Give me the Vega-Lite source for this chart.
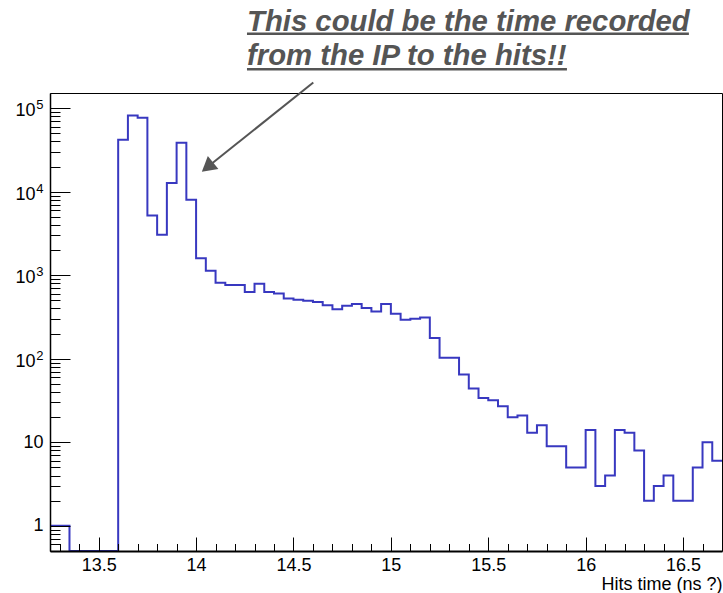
{
  "$schema": "https://vega.github.io/schema/vega-lite/v6.json",
  "width": 672,
  "height": 458,
  "autosize": {"type": "none"},
  "padding": {"left": 50, "top": 93, "right": 1, "bottom": 42},
  "background": "white",
  "config": {
    "view": {"stroke": "#000", "strokeWidth": 1},
    "font": "Liberation Sans",
    "axis": {"grid": false}
  },
  "datasets": {
    "hist": [
      {"t": 13.25, "n": 1}, {"t": 13.3, "n": 1}, {"t": 13.35, "n": 0}, {"t": 13.4, "n": 0},
      {"t": 13.45, "n": 0}, {"t": 13.5, "n": 0}, {"t": 13.55, "n": 0}, {"t": 13.6, "n": 42000},
      {"t": 13.65, "n": 82000}, {"t": 13.7, "n": 77000}, {"t": 13.75, "n": 5200}, {"t": 13.8, "n": 3050},
      {"t": 13.85, "n": 12700}, {"t": 13.9, "n": 38500}, {"t": 13.95, "n": 8000}, {"t": 14.0, "n": 1600},
      {"t": 14.05, "n": 1130}, {"t": 14.1, "n": 813}, {"t": 14.15, "n": 765}, {"t": 14.2, "n": 765},
      {"t": 14.25, "n": 629}, {"t": 14.3, "n": 790}, {"t": 14.35, "n": 629}, {"t": 14.4, "n": 605},
      {"t": 14.45, "n": 527}, {"t": 14.5, "n": 508}, {"t": 14.55, "n": 494}, {"t": 14.6, "n": 477},
      {"t": 14.65, "n": 437}, {"t": 14.7, "n": 393}, {"t": 14.75, "n": 432}, {"t": 14.8, "n": 452},
      {"t": 14.85, "n": 405}, {"t": 14.9, "n": 368}, {"t": 14.95, "n": 452}, {"t": 15.0, "n": 346},
      {"t": 15.05, "n": 293}, {"t": 15.1, "n": 302}, {"t": 15.15, "n": 312}, {"t": 15.2, "n": 177},
      {"t": 15.25, "n": 103}, {"t": 15.3, "n": 103}, {"t": 15.35, "n": 65}, {"t": 15.4, "n": 44},
      {"t": 15.45, "n": 34}, {"t": 15.5, "n": 32}, {"t": 15.55, "n": 27}, {"t": 15.6, "n": 20},
      {"t": 15.65, "n": 21}, {"t": 15.7, "n": 13}, {"t": 15.75, "n": 16}, {"t": 15.8, "n": 9},
      {"t": 15.85, "n": 9}, {"t": 15.9, "n": 5}, {"t": 15.95, "n": 5}, {"t": 16.0, "n": 14},
      {"t": 16.05, "n": 3}, {"t": 16.1, "n": 4}, {"t": 16.15, "n": 14}, {"t": 16.2, "n": 13},
      {"t": 16.25, "n": 8}, {"t": 16.3, "n": 2}, {"t": 16.35, "n": 3}, {"t": 16.4, "n": 4},
      {"t": 16.45, "n": 2}, {"t": 16.5, "n": 2}, {"t": 16.55, "n": 5}, {"t": 16.6, "n": 10},
      {"t": 16.65, "n": 6}, {"t": 16.7, "n": 6}
    ],
    "notes": [
      {"label": "This could be the time recorded", "tx": 14.2613, "ty": 831800},
      {"label": "from the IP to the hits!!", "tx": 14.2613, "ty": 330200}
    ],
    "underlines": [
      {"xa": 14.2613, "xb": 16.53, "y": 776500},
      {"xa": 14.2613, "xb": 15.904, "y": 291600}
    ],
    "arrow": [
      {"x": 14.6017, "y": 202700},
      {"x": 14.0826, "y": 21930}
    ],
    "head": [
      {"x": 14.0585, "y": 19700}
    ]
  },
  "layer": [
    {
      "data": {"name": "hist"},
      "mark": {"type": "line", "interpolate": "step-after", "color": "#3838c0", "strokeWidth": 2, "clip": true, "invalid": null},
      "encoding": {
        "x": {
          "field": "t", "type": "quantitative",
          "scale": {"domain": [13.25, 16.7], "nice": false, "zero": false},
          "axis": {
            "orient": "bottom",
            "values": [13.5, 14, 14.5, 15, 15.5, 16, 16.5],
            "format": "~g",
            "tickSize": -14, "tickColor": "#000", "tickWidth": 1,
            "domainColor": "#000", "domainWidth": 2,
            "labelFontSize": 18, "labelColor": "#000", "labelPadding": 19,
            "labelFlush": false, "labelOverlap": false,
            "title": "Hits time (ns ?)", "titleFontSize": 18, "titleFontWeight": "normal",
            "titleColor": "#000", "titleAnchor": "end", "titleAlign": "right",
            "titleX": 672, "titleY": 38, "titleBaseline": "alphabetic",
            "zindex": 1
          }
        },
        "y": {
          "field": "n", "type": "quantitative",
          "scale": {"type": "log", "domain": [0.5, 152000], "nice": false, "clamp": true},
          "axis": {
            "orient": "left",
            "values": [1, 10, 100, 1000, 10000, 100000],
            "labelExpr": "datum.value == 1 ? '1' : datum.value == 10 ? '10' : ''",
            "tickSize": -20, "tickColor": "#000", "tickWidth": 1,
            "domainColor": "#000", "domainWidth": 1.5,
            "labelFontSize": 18, "labelColor": "#000", "labelPadding": 27,
            "labelFlush": false, "labelOverlap": false,
            "title": null,
            "zindex": 1
          }
        }
      }
    },
    {
      "data": {"name": "hist"},
      "mark": {"type": "line", "interpolate": "step-after", "strokeOpacity": 0, "clip": true, "invalid": null},
      "encoding": {
        "x": {
          "field": "t", "type": "quantitative",
          "scale": {"domain": [13.25, 16.7], "nice": false, "zero": false},
          "axis": {
            "orient": "bottom",
            "values": [13.3, 13.4, 13.6, 13.7, 13.8, 13.9, 14.1, 14.2, 14.3, 14.4, 14.6, 14.7, 14.8, 14.9, 15.1, 15.2, 15.3, 15.4, 15.6, 15.7, 15.8, 15.9, 16.1, 16.2, 16.3, 16.4, 16.6],
            "tickSize": -7.5, "tickColor": "#000", "tickWidth": 1,
            "labels": false, "domain": false, "title": null, "zindex": 1
          }
        },
        "y": {
          "field": "n", "type": "quantitative",
          "scale": {"type": "log", "domain": [0.5, 152000], "nice": false, "clamp": true},
          "axis": {
            "orient": "left",
            "values": [0.6, 0.7, 0.8, 0.9, 2, 3, 4, 5, 6, 7, 8, 9, 20, 30, 40, 50, 60, 70, 80, 90, 200, 300, 400, 500, 600, 700, 800, 900, 2000, 3000, 4000, 5000, 6000, 7000, 8000, 9000, 20000, 30000, 40000, 50000, 60000, 70000, 80000, 90000],
            "tickSize": -10, "tickColor": "#000", "tickWidth": 1,
            "labels": false, "domain": false, "title": null, "zindex": 1
          }
        }
      }
    },
    {
      "data": {"name": "hist"},
      "mark": {"type": "line", "strokeOpacity": 0, "clip": true, "invalid": null},
      "encoding": {
        "x": {"field": "t", "type": "quantitative", "scale": {"domain": [13.25, 16.7], "nice": false, "zero": false}, "axis": null},
        "y": {
          "field": "n", "type": "quantitative",
          "scale": {"type": "log", "domain": [0.5, 152000], "nice": false, "clamp": true},
          "axis": {
            "orient": "left",
            "values": [100, 1000, 10000, 100000],
            "labelExpr": "'10'",
            "tickSize": -20, "tickOpacity": 0,
            "labelFontSize": 18, "labelColor": "#000", "labelPadding": 35, "labelOffset": 2.5,
            "labelFlush": false, "labelOverlap": false,
            "domain": false, "title": null
          }
        }
      }
    },
    {
      "data": {"name": "hist"},
      "mark": {"type": "line", "strokeOpacity": 0, "clip": true, "invalid": null},
      "encoding": {
        "x": {"field": "t", "type": "quantitative", "scale": {"domain": [13.25, 16.7], "nice": false, "zero": false}, "axis": null},
        "y": {
          "field": "n", "type": "quantitative",
          "scale": {"type": "log", "domain": [0.5, 152000], "nice": false, "clamp": true},
          "axis": {
            "orient": "left",
            "values": [100, 1000, 10000, 100000],
            "labelExpr": "datum.value == 100 ? '2' : datum.value == 1000 ? '3' : datum.value == 10000 ? '4' : '5'",
            "tickSize": -20, "tickOpacity": 0,
            "labelFontSize": 13, "labelColor": "#000", "labelPadding": 27, "labelOffset": -3.5,
            "labelFlush": false, "labelOverlap": false,
            "domain": false, "title": null
          }
        }
      }
    },
    {
      "data": {"name": "notes"},
      "mark": {"type": "text", "align": "left", "baseline": "alphabetic", "font": "Liberation Sans", "fontSize": 29.3, "fontWeight": "bold", "fontStyle": "italic", "color": "#555555"},
      "encoding": {
        "x": {"field": "tx", "type": "quantitative", "scale": {"domain": [13.25, 16.7], "nice": false, "zero": false}, "axis": null},
        "y": {"field": "ty", "type": "quantitative", "scale": {"type": "log", "domain": [0.5, 152000], "nice": false}, "axis": null},
        "text": {"field": "label"}
      }
    },
    {
      "data": {"name": "underlines"},
      "mark": {"type": "rule", "color": "#555555", "strokeWidth": 2.5},
      "encoding": {
        "x": {"field": "xa", "type": "quantitative", "scale": {"domain": [13.25, 16.7], "nice": false, "zero": false}, "axis": null},
        "x2": {"field": "xb"},
        "y": {"field": "y", "type": "quantitative", "scale": {"type": "log", "domain": [0.5, 152000], "nice": false}, "axis": null}
      }
    },
    {
      "data": {"name": "arrow"},
      "mark": {"type": "line", "color": "#555555", "strokeWidth": 2},
      "encoding": {
        "x": {"field": "x", "type": "quantitative", "scale": {"domain": [13.25, 16.7], "nice": false, "zero": false}, "axis": null},
        "y": {"field": "y", "type": "quantitative", "scale": {"type": "log", "domain": [0.5, 152000], "nice": false}, "axis": null}
      }
    },
    {
      "data": {"name": "head"},
      "mark": {"type": "point", "shape": "triangle-up", "filled": true, "color": "#555555", "opacity": 1, "size": 280, "angle": 231},
      "encoding": {
        "x": {"field": "x", "type": "quantitative", "scale": {"domain": [13.25, 16.7], "nice": false, "zero": false}, "axis": null},
        "y": {"field": "y", "type": "quantitative", "scale": {"type": "log", "domain": [0.5, 152000], "nice": false}, "axis": null}
      }
    }
  ],
  "resolve": {
    "scale": {"y": "independent"},
    "axis": {"x": "independent", "y": "independent"}
  }
}
